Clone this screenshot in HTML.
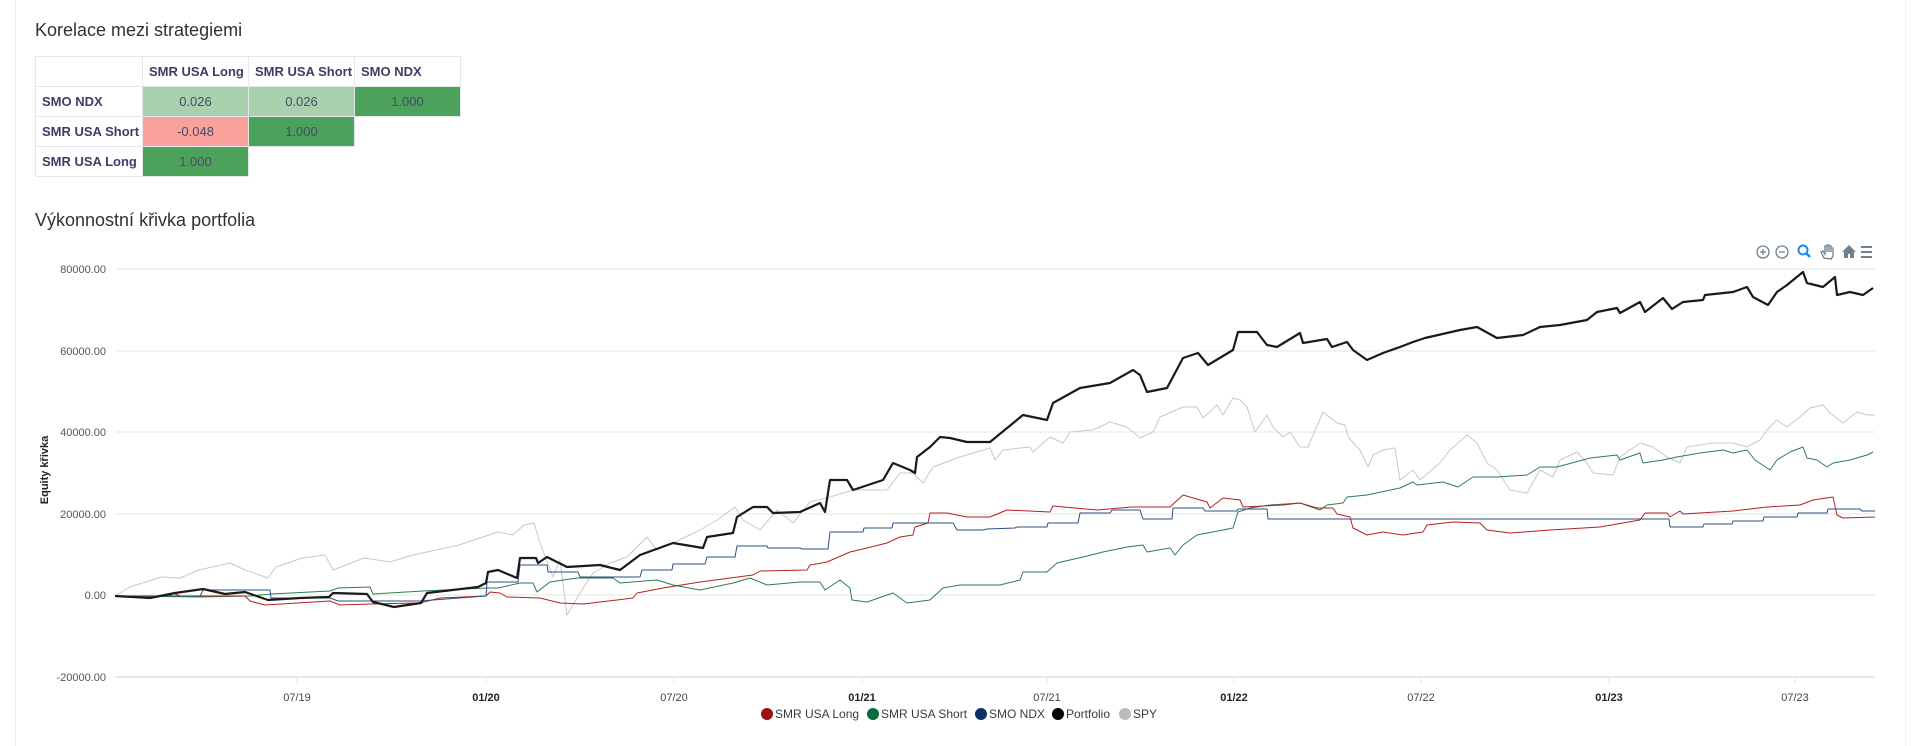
<!DOCTYPE html>
<html><head><meta charset="utf-8"><style>
body{margin:0;width:1920px;height:746px;background:#fff;overflow:hidden;position:relative;font-family:"Liberation Sans",sans-serif}
.bl{position:absolute;top:0;bottom:0;width:1px;background:#eef0f3}
h3{position:absolute;margin:0;font-weight:normal;font-size:18px;color:#2d3436;left:35px}
table{position:absolute;left:35px;top:56px;border-collapse:collapse;font-size:13px}
td{border:1px solid #e4e7ec;height:29px;padding:0;color:#4a4a6a;text-align:center}
td.h{font-weight:bold;color:#3d3d66;text-align:left;padding-left:6px}
.lg{background:#a9d1ae}.dg{background:#4ca25a}.pk{background:#f9a19a}
</style></head><body>
<div class="bl" style="left:15px"></div><div class="bl" style="left:1905px"></div>
<h3 style="top:20px">Korelace mezi strategiemi</h3>
<table>
<tr><td style="width:106px"></td><td class="h" style="width:99px">SMR USA Long</td><td class="h" style="width:99px">SMR USA Short</td><td class="h" style="width:99px">SMO NDX</td></tr>
<tr><td class="h">SMO NDX</td><td class="lg">0.026</td><td class="lg">0.026</td><td class="dg">1.000</td></tr>
<tr><td class="h">SMR USA Short</td><td class="pk">-0.048</td><td class="dg">1.000</td><td style="border:none"></td></tr>
<tr><td class="h">SMR USA Long</td><td class="dg">1.000</td><td style="border:none"></td><td style="border:none"></td></tr>
</table>
<h3 style="top:210px">Výkonnostní křivka portfolia</h3>
<svg width="1920" height="746" style="position:absolute;left:0;top:0" font-family="Liberation Sans, sans-serif">
<g stroke="#e6e6e6" stroke-width="1">
<line x1="116" x2="1875" y1="269" y2="269"/><line x1="116" x2="1875" y1="351" y2="351"/><line x1="116" x2="1875" y1="432" y2="432"/><line x1="116" x2="1875" y1="514" y2="514"/><line x1="116" x2="1875" y1="595" y2="595"/><line x1="116" x2="1875" y1="677" y2="677" stroke-width="2"/>
<line x1="297" x2="297" y1="677" y2="683"/><line x1="486" x2="486" y1="677" y2="683"/><line x1="674" x2="674" y1="677" y2="683"/><line x1="862" x2="862" y1="677" y2="683"/><line x1="1047" x2="1047" y1="677" y2="683"/><line x1="1234" x2="1234" y1="677" y2="683"/><line x1="1421" x2="1421" y1="677" y2="683"/><line x1="1609" x2="1609" y1="677" y2="683"/><line x1="1795" x2="1795" y1="677" y2="683"/>
</g>
<g font-size="11" fill="#555" text-anchor="end">
<text x="106" y="273">80000.00</text><text x="106" y="355">60000.00</text><text x="106" y="436">40000.00</text><text x="106" y="518">20000.00</text><text x="106" y="599">0.00</text><text x="106" y="681">-20000.00</text>
</g>
<g font-size="11" fill="#444" text-anchor="middle">
<text x="297" y="701">07/19</text><text x="486" y="701" font-weight="bold" fill="#222">01/20</text><text x="674" y="701">07/20</text><text x="862" y="701" font-weight="bold" fill="#222">01/21</text><text x="1047" y="701">07/21</text><text x="1234" y="701" font-weight="bold" fill="#222">01/22</text><text x="1421" y="701">07/22</text><text x="1609" y="701" font-weight="bold" fill="#222">01/23</text><text x="1795" y="701">07/23</text>
</g>
<text transform="translate(48,470) rotate(-90)" font-size="11" font-weight="bold" fill="#222" text-anchor="middle">Equity křivka</text>
<g fill="none" stroke-linejoin="round">
<polyline stroke="#c8c8c8" stroke-width="1" points="115,596 130,587 161,577 180,578 199,570 230,563 245,570 268,578 276,567 302,558 325,555 333,570 364,558 390,562 413,555 459,545 498,532 513,535 524,525 534,523 540,543 553,577 560,560 567,615 580,593 593,573 610,563 627,557 647,537 657,550 673,543 700,530 717,520 735,507 743,520 760,530 777,510 793,523 810,502 830,497 853,490 887,490 900,473 913,473 923,483 933,467 960,457 990,448 995,460 1003,450 1030,447 1033,452 1050,437 1063,443 1070,432 1093,430 1110,422 1127,427 1140,438 1153,432 1160,417 1183,407 1197,407 1203,418 1217,405 1223,415 1233,398 1240,400 1247,407 1255,432 1267,415 1273,427 1283,437 1290,432 1300,447 1308,447 1323,412 1337,423 1345,425 1348,437 1360,450 1368,467 1373,455 1383,450 1395,448 1400,480 1413,470 1420,480 1440,463 1450,450 1467,435 1477,443 1487,463 1497,470 1510,490 1527,493 1540,470 1553,477 1560,460 1577,452 1587,463 1593,473 1613,475 1620,457 1640,443 1653,447 1667,457 1680,463 1687,447 1713,443 1733,443 1747,447 1760,440 1767,430 1777,420 1787,427 1800,417 1810,408 1823,405 1830,413 1843,423 1857,412 1867,415 1875,415"/>
<polyline stroke="#2e7d4f" stroke-width="1" points="115,596 200,597 250,596 271,594 330,591 338,588 370,587 373,594 423,591 486,588 498,588 520,583 533,583 537,592 550,582 577,578 613,578 620,583 657,580 673,585 700,590 733,583 750,578 767,585 800,582 820,582 825,590 840,580 850,588 852,600 867,602 893,593 907,603 930,600 943,588 960,585 1000,585 1020,580 1023,572 1047,572 1057,563 1083,557 1103,552 1127,547 1143,545 1147,552 1170,548 1175,555 1183,545 1197,535 1223,530 1233,528 1238,512 1250,508 1270,505 1300,503 1320,510 1327,505 1343,503 1347,497 1367,495 1400,488 1413,482 1417,485 1443,482 1458,487 1473,477 1497,477 1527,475 1540,467 1557,467 1590,458 1617,455 1620,460 1640,453 1643,463 1663,460 1677,457 1700,453 1723,450 1733,453 1747,450 1755,460 1770,470 1777,460 1790,452 1803,447 1807,458 1817,460 1827,467 1833,463 1850,460 1867,455 1873,452"/>
<polyline stroke="#b22222" stroke-width="1" points="115,596 170,596 173,593 180,596 245,596 250,601 265,605 330,601 340,605 370,604 420,603 440,598 486,596 490,592 500,593 507,597 540,598 560,603 583,604 617,600 633,598 637,593 663,588 700,582 753,575 760,571 807,570 810,565 827,562 850,552 867,548 887,543 900,537 913,535 915,527 928,523 930,513 947,513 967,517 990,517 1007,510 1050,512 1053,506 1097,510 1132,507 1170,507 1183,495 1207,502 1210,508 1223,498 1240,500 1243,507 1283,505 1300,503 1317,508 1333,508 1337,514 1350,517 1353,528 1367,535 1383,532 1403,535 1423,532 1427,525 1453,522 1480,523 1487,530 1510,533 1550,530 1600,527 1640,520 1645,513 1667,513 1670,517 1680,511 1683,514 1733,511 1767,507 1800,505 1813,500 1833,497 1837,515 1843,518 1875,517"/>
<polyline stroke="#2c4f86" stroke-width="1" points="115,596 200,596 203,590 270,590 271,598 330,598 338,601 420,601 486,596 487,582 518,582 520,565 547,565 548,572 578,572 580,577 640,577 642,570 672,570 673,564 705,564 707,557 735,557 737,546 767,546 768,548 800,548 802,549 828,549 830,532 863,532 864,528 892,528 893,523 953,523 957,530 983,530 987,529 1015,528 1017,527 1047,527 1048,523 1078,523 1080,513 1110,513 1112,510 1140,510 1143,519 1172,519 1173,508 1203,508 1205,511 1237,511 1238,509 1267,509 1268,519 1669,519 1670,527 1703,527 1704,524 1732,524 1733,521 1763,521 1764,517 1797,517 1798,513 1827,513 1828,509 1860,509 1862,511 1875,511"/>
<polyline stroke="#1a1a1a" stroke-width="2.2" points="115,596 150,598 175,593 203,589 225,594 245,592 268,600 300,598 329,597 333,593 367,594 373,602 394,607 421,603 427,593 478,587 486,583 488,572 498,570 517,578 520,558 536,558 538,563 547,557 567,567 600,565 620,570 640,555 673,543 703,548 707,537 733,533 737,517 753,507 767,507 773,513 800,512 820,503 825,512 830,480 847,480 853,490 883,480 893,463 910,470 915,473 917,457 930,447 940,437 950,438 967,442 990,442 1023,415 1047,420 1053,403 1080,388 1110,383 1133,370 1140,375 1147,392 1167,388 1183,358 1198,353 1208,365 1233,350 1238,332 1257,332 1267,345 1277,347 1300,333 1303,343 1327,339 1332,347 1347,342 1353,350 1367,360 1383,353 1400,347 1413,342 1425,338 1460,330 1477,327 1497,338 1523,335 1540,327 1560,325 1587,320 1597,312 1617,308 1620,313 1640,302 1645,312 1663,298 1672,309 1683,302 1703,300 1705,295 1733,292 1747,287 1753,297 1768,305 1777,292 1787,285 1803,272 1807,283 1823,287 1835,277 1837,295 1850,292 1863,295 1873,288"/>
</g>
<g font-size="12" fill="#373d3f">
<circle cx="767" cy="714" r="6" fill="#9b1111"/><text x="775" y="718">SMR USA Long</text>
<circle cx="873" cy="714" r="6" fill="#0b6b3a"/><text x="881" y="718">SMR USA Short</text>
<circle cx="981" cy="714" r="6" fill="#0d3265"/><text x="989" y="718">SMO NDX</text>
<circle cx="1058" cy="714" r="6" fill="#000"/><text x="1066" y="718">Portfolio</text>
<circle cx="1125" cy="714" r="6" fill="#bbb"/><text x="1133" y="718">SPY</text>
</g>
<g stroke="#6e8192" fill="none" stroke-width="1.3">
<circle cx="1763" cy="252" r="6"/><line x1="1760" x2="1766" y1="252" y2="252"/><line x1="1763" x2="1763" y1="249" y2="255"/>
<circle cx="1782" cy="252" r="6"/><line x1="1779" x2="1785" y1="252" y2="252"/>
<circle cx="1803" cy="250" r="4.5" stroke="#1e88e5" stroke-width="2"/><line x1="1806" y1="253" x2="1810" y2="257" stroke="#1e88e5" stroke-width="2.5"/>
<path d="M1824 258 l-3 -6 l2 -1 l2 3 v-8 h2 v6 v-7 h2 v7 v-6 h2 v6 v-4 h2 v8 l-2 3 z"/>
<line x1="1861" x2="1872" y1="247" y2="247" stroke-width="2"/><line x1="1861" x2="1872" y1="252" y2="252" stroke-width="2"/><line x1="1861" x2="1872" y1="257" y2="257" stroke-width="2"/>
</g>
<path d="M1842 252 l7 -7 l7 7 h-2 v6 h-4 v-4 h-2 v4 h-4 v-6 z" fill="#6e8192"/>
</svg>
</body></html>
